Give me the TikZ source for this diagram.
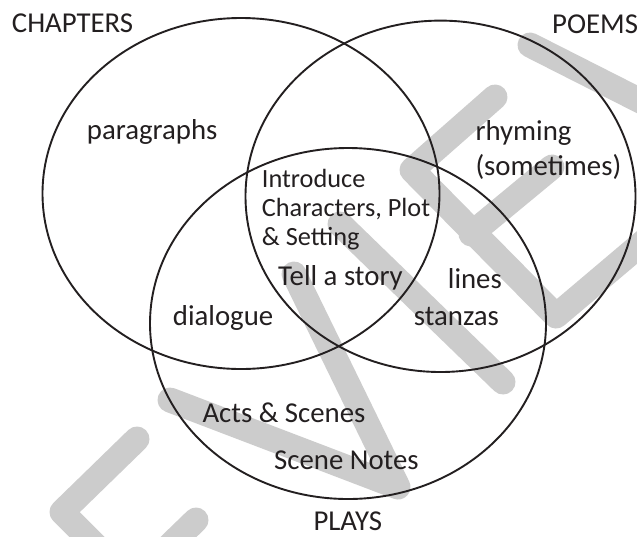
\documentclass[tikz,border=0pt]{standalone}
\usepackage{fontspec}
\setmainfont{Carlito}
\definecolor{ink}{HTML}{231F20}
\definecolor{wmgray}{gray}{0.8}
\begin{document}
\begin{tikzpicture}[x=1pt,y=-1pt,
  ring/.style={draw=ink,line width=1.9pt},
  wmband/.style={draw=wmgray,line width=25pt,line cap=round,line join=round},
  lbl/.style={anchor=base west,inner sep=0pt,text=ink,font=\fontsize{28.8}{34}\selectfont},
  small lbl/.style={lbl,font=\fontsize{26.3}{28.3}\selectfont}]
\useasboundingbox (0,0) rectangle (637,536);
\clip (0,0) rectangle (637,536);
\fill[white] (0,0) rectangle (637,536);

% background watermark strokes
\draw[wmband] (137,439) -- (62,512) -- (112,562);
\draw[wmband] (196,520) -- (132,582);
\draw[wmband] (170,400) -- (398,487) -- (294,274);
\draw[wmband] (340,224) -- (503,382);
\draw[wmband] (495,97) -- (412,170) -- (556,316) -- (660,228);
\draw[wmband] (471,234) -- (552,167);
\draw[wmband] (530,45) -- (680,121);

% the three sets
\draw[ring] (241,193.5) ellipse [x radius=198.5, y radius=175.5];
\draw[ring] (440.5,196.3) ellipse [x radius=195, y radius=175.7];
\draw[ring] (348,323.5) ellipse [x radius=198, y radius=175.5];

% set names
\node[lbl] (chapters) at (11.7,32.7) {CHAPTERS};
\node[lbl] (poems) at (552,33.3) {POEMS};
\node[lbl,text depth=0pt] (plays) at (313.3,530) {PLAYS};

% region contents
\node[lbl] (paragraphs) at (86.7,139) {paragraphs};
\node[lbl] (rhyming) at (475.3,140) {rhyming};
\node[lbl] (sometimes) at (475.3,175) {(sometimes)};
\node[small lbl] (intro1) at (261.7,187.5) {Introduce};
\node[small lbl] (intro2) at (261.7,216.3) {Characters, Plot};
\node[small lbl] (intro3) at (261.7,245) {\& Setting};
\node[lbl] (story) at (278,285) {Tell a story};
\node[lbl] (lines) at (447.7,288.5) {lines};
\node[lbl] (stanzas) at (413.7,325) {stanzas};
\node[lbl] (dialogue) at (172.7,325.5) {dialogue};
\node[lbl] (acts) at (202.3,422.7) {Acts \& Scenes};
\node[lbl] (notes) at (274,469.3) {Scene Notes};
\end{tikzpicture}
\end{document}
